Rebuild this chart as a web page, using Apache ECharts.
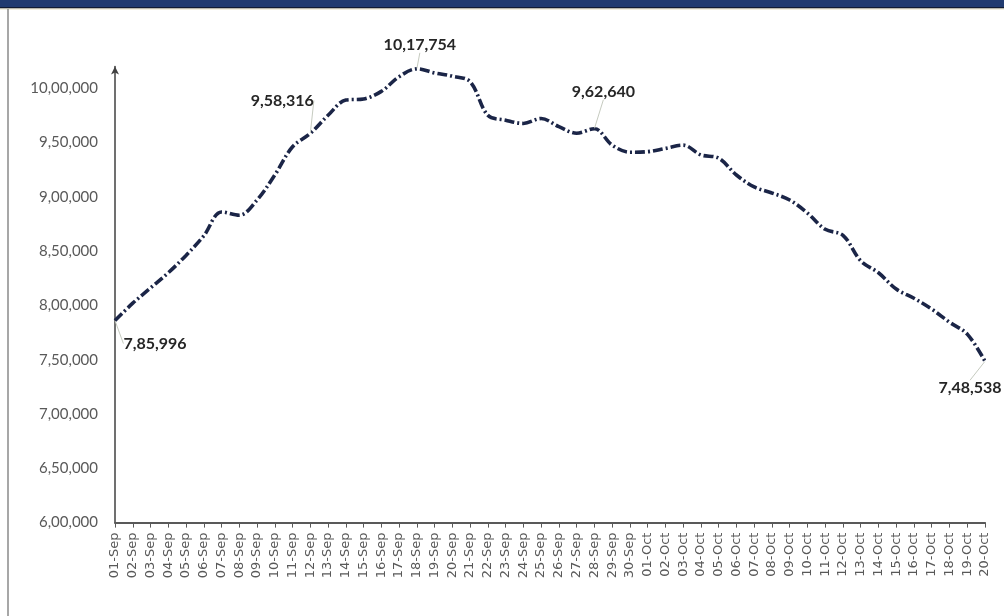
<!DOCTYPE html>
<html>
<head>
<meta charset="utf-8">
<script src="https://cdn.jsdelivr.net/npm/echarts@6/dist/echarts.min.js"></script>
<style>
html,body{margin:0;padding:0;background:#fff;}
#chart{width:1004px;height:616px;}
</style>
</head>
<body>
<div id="chart"></div>
<script>
var categories = ['01-Sep','02-Sep','03-Sep','04-Sep','05-Sep','06-Sep','07-Sep','08-Sep','09-Sep','10-Sep',
  '11-Sep','12-Sep','13-Sep','14-Sep','15-Sep','16-Sep','17-Sep','18-Sep','19-Sep','20-Sep',
  '21-Sep','22-Sep','23-Sep','24-Sep','25-Sep','26-Sep','27-Sep','28-Sep','29-Sep','30-Sep',
  '01-Oct','02-Oct','03-Oct','04-Oct','05-Oct','06-Oct','07-Oct','08-Oct','09-Oct','10-Oct',
  '11-Oct','12-Oct','13-Oct','14-Oct','15-Oct','16-Oct','17-Oct','18-Oct','19-Oct','20-Oct'];
var activeCases = [785996,802000,816000,830000,846000,864000,886000,883000,897000,920000,
  946000,958316,975000,989000,990000,997000,1010500,1017754,1014000,1011000,
  1006000,975000,970500,967500,972000,964500,958500,962640,947500,941000,
  941500,944500,947500,938500,935500,920000,909000,903500,897000,885000,
  870000,864500,841000,830000,815000,806500,796500,784500,773500,748538];
var labelledIdx = [0, 11, 17, 27, 49];
var yTicks = {min: 600000, max: 1020000, interval: 50000};

function indianFormat(n) {
  var s = String(Math.round(n));
  if (s.length <= 3) return s;
  var last3 = s.slice(-3);
  var rest = s.slice(0, -3);
  rest = rest.replace(/\B(?=(\d{2})+(?!\d))/g, ',');
  return rest + ',' + last3;
}

var labelOffsets = {0:[40,23], 11:[-28,-33], 17:[3,-24], 27:[9,-37], 49:[-15,27]};

var seriesData = activeCases.map(function (v, i) {
  if (labelledIdx.indexOf(i) >= 0) {
    return {value: v, label: {show: true}, labelLine: {show: true}};
  }
  return {value: v};
});

var chart = echarts.init(document.getElementById('chart'));
chart.setOption({
  backgroundColor: '#ffffff',
  animation: false,
  graphic: [
    {type: 'rect', shape: {x: 0, y: 0, width: 1004, height: 8}, style: {fill: '#213b70'}, z: 10},
    {type: 'rect', shape: {x: 0, y: 7, width: 1004, height: 1.5}, style: {fill: '#121c33'}, z: 10},
    {type: 'rect', shape: {x: 0, y: 8.5, width: 1004, height: 1}, style: {fill: '#e6e0c0'}, z: 10},
    {type: 'line', shape: {x1: 8, y1: 9, x2: 8, y2: 616}, style: {stroke: '#8a8a8a', lineWidth: 1.5}, z: 10}
  ],
  grid: {left: 115, right: 19, top: 66.4, bottom: 93.4, containLabel: false},
  xAxis: {
    type: 'category',
    data: categories,
    boundaryGap: false,
    axisLine: {lineStyle: {color: '#595959', width: 2}},
    axisTick: {show: true, alignWithLabel: true, length: 5, lineStyle: {color: '#595959', width: 1}},
    axisLabel: {rotate: 90, interval: 0, color: '#595959', fontFamily: 'DejaVu Sans', fontSize: 13, margin: 10}
  },
  yAxis: {
    type: 'value',
    min: yTicks.min,
    max: yTicks.max,
    interval: yTicks.interval,
    splitLine: {show: false},
    axisTick: {show: false},
    axisLine: {show: true, lineStyle: {color: '#404040', width: 1.5}, symbol: ['none', 'arrow'], symbolSize: [6, 8]},
    axisLabel: {
      color: '#595959', fontFamily: 'Lato', fontSize: 15, margin: 17,
      showMaxLabel: false,
      formatter: function (v) { return v % 50000 === 0 ? indianFormat(v) : ''; }
    }
  },
  series: [{
    type: 'line',
    data: seriesData,
    smooth: 0.35,
    symbol: 'circle',
    symbolSize: 1,
    showSymbol: true,
    itemStyle: {color: 'rgba(0,0,0,0)'},
    lineStyle: {color: '#1b2547', width: 3.6, type: [10, 3, 2, 3]},
    label: {
      show: false,
      position: 'inside',
      color: '#262626',
      fontFamily: 'Lato',
      fontWeight: 'bold',
      fontSize: 16,
      formatter: function (p) { return indianFormat(p.value); }
    },
    labelLine: {show: false, lineStyle: {color: '#c6cbc0', width: 1}},
    labelLayout: function (p) {
      var o = labelOffsets[p.dataIndex];
      if (!o) return {};
      return {dx: o[0], dy: o[1]};
    }
  }]
});
</script>
</body>
</html>
